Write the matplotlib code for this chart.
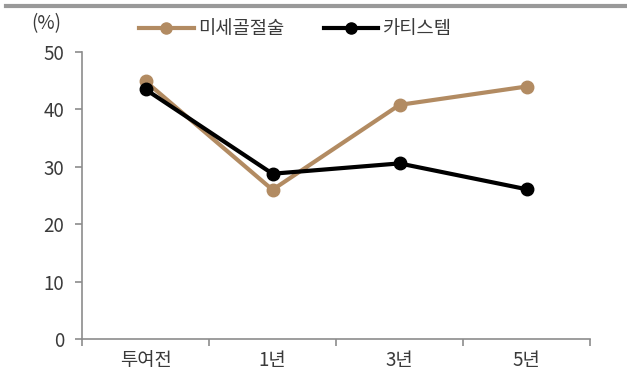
import matplotlib
matplotlib.use('Agg')
import matplotlib.pyplot as plt
from matplotlib.lines import Line2D

plt.rcParams['font.family'] = ['Noto Sans CJK KR', 'DejaVu Sans']
plt.rcParams['font.weight'] = 'light'

# 데이터
categories = ['투여전', '1년', '3년', '5년']
microfracture = [44.9, 26.0, 40.8, 44.0]
cartistem = [43.5, 28.8, 30.6, 26.1]
yticks = [0, 10, 20, 30, 40, 50]

brown = '#B28B62'
gray = '#8C8C8C'
txt = '#3A3A3A'
fs = 13.5

fig = plt.figure(figsize=(6.27, 3.83), dpi=100)
ax = fig.add_axes([0.1308, 0.1149, 0.8102, 0.7491])

x = range(len(categories))
ax.plot(x, microfracture, color=brown, linewidth=3, marker='o', markersize=9, label='미세골절술')
ax.plot(x, cartistem, color='black', linewidth=3, marker='o', markersize=9, label='카티스템')

ax.set_xlim(-0.5, 3.5)
ax.set_ylim(0, 50)
ax.set_yticks(yticks)
ax.set_xticks(list(x))
ax.set_xticklabels(categories)
ax.set_xticks([-0.5, 0.5, 1.5, 2.5, 3.5], minor=True)
ax.tick_params(axis='x', which='major', length=0, pad=8, labelsize=fs, colors=txt)
ax.tick_params(axis='x', which='minor', length=5, color=gray, width=1.2)
ax.tick_params(axis='y', length=5, color=gray, width=1.2, pad=8, labelsize=fs, labelcolor=txt)

for s in ['top', 'right']:
    ax.spines[s].set_visible(False)
for s in ['left', 'bottom']:
    ax.spines[s].set_color(gray)
    ax.spines[s].set_linewidth(1.2)

fig.text(0.097, 0.938, '(%)', fontsize=fs, color=txt, va='center', ha='right')

# 범례
handles = [Line2D([0], [0], color=brown, lw=3, marker='o', markersize=8),
           Line2D([0], [0], color='black', lw=3, marker='o', markersize=8)]
fig.legend(handles, ['미세골절술', '카티스템'], loc='center left', bbox_to_anchor=(0.222, 0.925),
           ncol=2, frameon=False, fontsize=13.5, handlelength=2.9, handletextpad=0.25,
           columnspacing=2.1, labelcolor=txt, borderpad=0, borderaxespad=0)

# 상단 회색 바
fig.add_artist(Line2D([0.01, 1], [0.984, 0.984], transform=fig.transFigure, color='#999999', linewidth=3))

fig.savefig('out.png', dpi=100)
